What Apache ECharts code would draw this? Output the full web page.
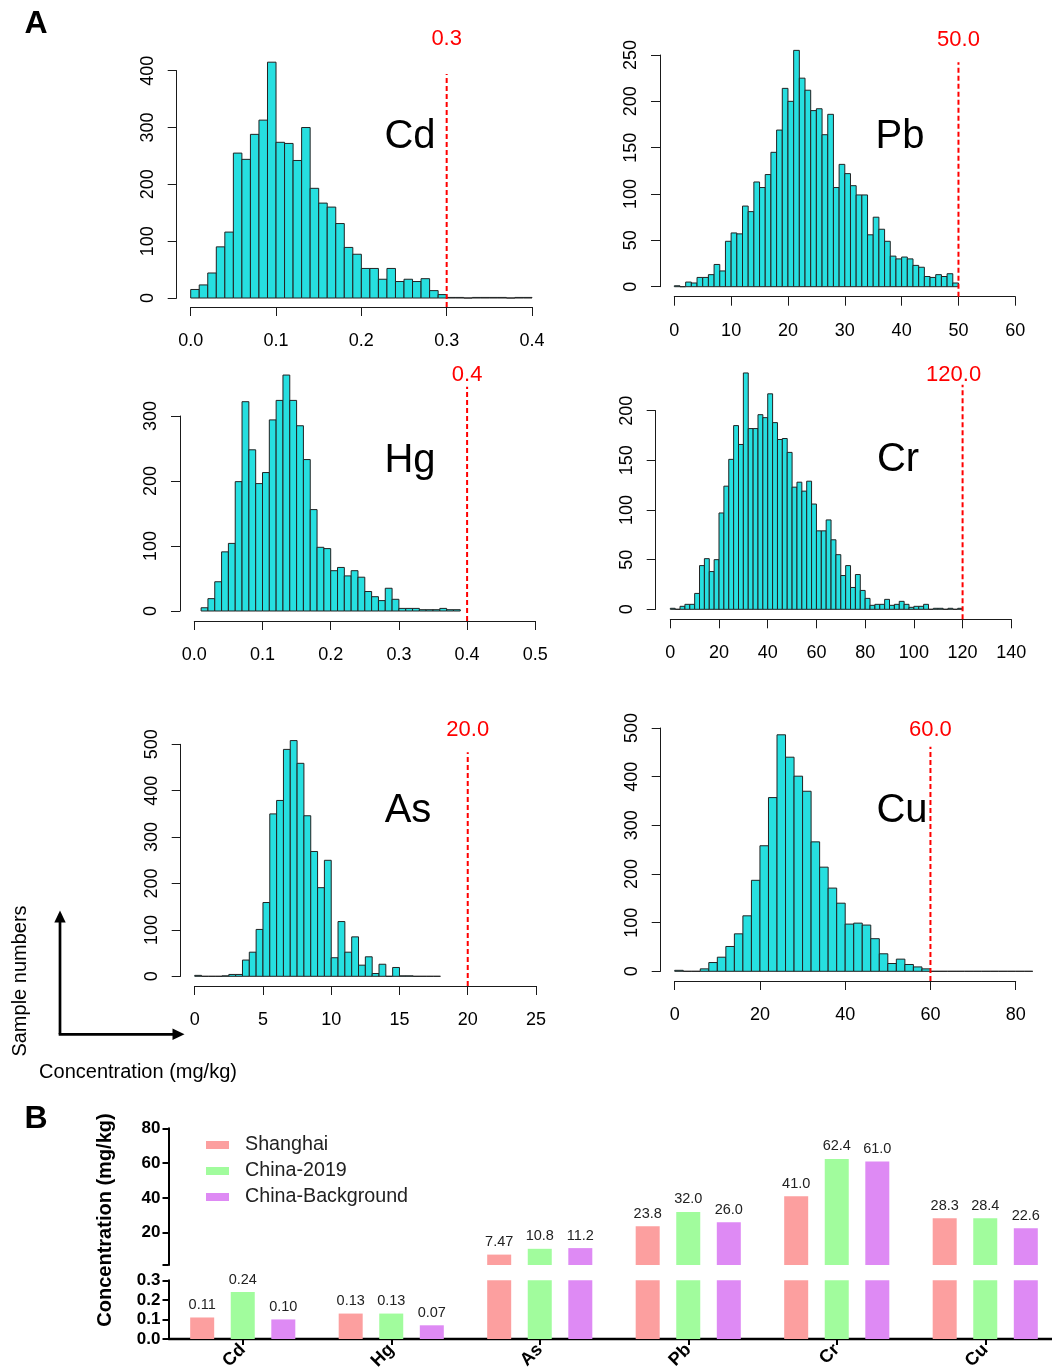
<!DOCTYPE html>
<html><head><meta charset="utf-8">
<script src="https://cdn.jsdelivr.net/npm/echarts@6/dist/echarts.min.js"></script>
<style>html,body{margin:0;padding:0;background:#fff}#chart{width:1052px;height:1370px}</style>
</head><body><div id="chart"></div>
<script>
// ================= DATA =================
// Panel A histograms: counts per bin, first bin start, bin width, guideline value
const cdCounts = [15,23,44,90,116,255,244,288,313,415,274,272,242,300,193,167,160,131,89,77,52,52,33,52,29,33,29,34,13,6,1,1,0,1,1,1,1,0,1,1];
const cdBinStart = 0, cdBinWidth = 0.01, cdLimit = 0.3;

const pbCounts = [1,0,5,4,10,10,13,24,17,49,58,57,87,81,113,107,121,145,169,214,200,255,225,212,190,192,164,186,107,132,122,109,99,99,56,75,62,49,33,30,32,30,23,21,11,10,13,11,14,4];
const pbBinStart = 0, pbBinWidth = 1, pbLimit = 50;

const hgCounts = [5,19,45,91,104,199,322,248,196,213,294,324,363,324,285,233,156,98,96,62,67,54,62,52,30,22,16,35,18,4,4,4,2,2,2,4,2,2];
const hgBinStart = 0.01, hgBinWidth = 0.01, hgLimit = 0.4;

const crCounts = [1,0,3,5,5,16,44,51,38,50,97,124,151,185,166,238,182,182,196,193,217,188,171,172,158,123,128,119,129,106,79,79,90,70,55,34,44,22,35,19,11,4,5,5,10,4,5,8,5,2,3,3,5,0,1,1,0,1,0,1];
const crBinStart = 0, crBinWidth = 2, crLimit = 120;

const asCounts = [2,0,0,0,1,4,4,35,52,101,159,350,379,489,508,459,346,269,191,250,40,118,52,85,24,42,6,26,0,19,1,1,0,0,0,0];
const asBinStart = 0, asBinWidth = 0.5, asLimit = 20;

const cuCounts = [2,0,0,5,18,29,51,77,114,187,258,357,486,440,401,370,266,214,171,140,97,99,95,67,36,16,25,14,9,5,0,0,0,0,0,0,0,0,0,0,0,0];
const cuBinStart = 0, cuBinWidth = 2, cuLimit = 60;

// Panel B
const elements = ['Cd','Hg','As','Pb','Cr','Cu'];
const seriesNames = ['Shanghai','China-2019','China-Background'];
const shanghai = [0.11,0.13,7.47,23.8,41.0,28.3];
const china2019 = [0.24,0.13,10.8,32.0,62.4,28.4];
const chinaBackground = [0.10,0.07,11.2,26.0,61.0,22.6];

// ================= LAYOUT / STYLE =================
const FONT = 'Liberation Sans, Arial, Helvetica, sans-serif';
const HIST_FILL = '#26DFE0';
const panels = [
  {name:'Cd', counts:cdCounts, start:cdBinStart, bw:cdBinWidth, limit:cdLimit, xMax:0.4, xInt:0.1, xDec:1, yMax:400, yInt:100,
   grid:{left:190.7, top:70.7, width:341.3, height:227.3}, yOff:14, xOff:9, labelY:39, labelDx:0, nx:410, ny:137},
  {name:'Pb', counts:pbCounts, start:pbBinStart, bw:pbBinWidth, limit:pbLimit, xMax:60, xInt:10, xDec:0, yMax:250, yInt:50,
   grid:{left:674.3, top:55, width:341, height:231.7}, yOff:14.3, xOff:10, labelY:40, labelDx:0, nx:900, ny:137},
  {name:'Hg', counts:hgCounts, start:hgBinStart, bw:hgBinWidth, limit:hgLimit, xMax:0.5, xInt:0.1, xDec:1, yMax:300, yInt:100,
   grid:{left:194.3, top:416, width:341, height:195}, yOff:14.3, xOff:10, labelY:375, labelDx:0, nx:410, ny:461},
  {name:'Cr', counts:crCounts, start:crBinStart, bw:crBinWidth, limit:crLimit, xMax:140, xInt:20, xDec:0, yMax:200, yInt:50,
   grid:{left:670.3, top:410.7, width:341, height:198.6}, yOff:14.6, xOff:10, labelY:375, labelDx:-9, nx:898, ny:460},
  {name:'As', counts:asCounts, start:asBinStart, bw:asBinWidth, limit:asLimit, xMax:25, xInt:5, xDec:0, yMax:500, yInt:100,
   grid:{left:194.7, top:744.3, width:341.3, height:232}, yOff:14, xOff:9.7, labelY:730, labelDx:0, nx:408, ny:811},
  {name:'Cu', counts:cuCounts, start:cuBinStart, bw:cuBinWidth, limit:cuLimit, xMax:80, xInt:20, xDec:0, yMax:500, yInt:100,
   grid:{left:674.7, top:728, width:341, height:243.3}, yOff:14, xOff:9.7, labelY:730, labelDx:0, nx:902, ny:811}
];
const barColors = ['#FC9F9F','#A1FC9D','#DE8AF4'];
const lowerMax = 0.3;

// ================= BUILD =================
const grids = [], xAxes = [], yAxes = [], series = [], graphics = [];
const axisCol = '#1a1a1a';

function histRender(params, api) {
  const x0 = api.value(0), x1 = api.value(1), c = api.value(2);
  const p0 = api.coord([x0, c]);
  const p1 = api.coord([x1, 0]);
  return {type:'rect', shape:{x:p0[0], y:p0[1], width:p1[0]-p0[0], height:p1[1]-p0[1]},
          style:{fill: c > 0 ? HIST_FILL : 'none', stroke:'#222', lineWidth:1}};
}
function makeLimitRender(p) {
  return function(params, api) {
    const lim = api.value(0), topVal = api.value(1);
    const base = api.coord([lim, 0]);
    const top = api.coord([lim, topVal]);
    return {type:'group', children:[
      {type:'line', shape:{x1:base[0], y1:base[1] + p.xOff, x2:top[0], y2:top[1]},
       style:{stroke:'#FF0000', lineWidth:2, lineDash:[5,3]}},
      {type:'text', x:base[0] + p.labelDx, y:p.labelY,
       style:{text: lim.toFixed(1), align:'center', verticalAlign:'middle', fill:'#FF0000', fontSize:22, fontFamily:FONT}}
    ]};
  };
}

panels.forEach((p, i) => {
  grids.push(Object.assign({containLabel:false, outerBoundsMode:'none'}, p.grid));
  xAxes.push({type:'value', gridIndex:i, min:0, max:p.xMax, interval:p.xInt, offset:p.xOff,
    axisLine:{show:true, onZero:false, lineStyle:{color:axisCol, width:1}},
    axisTick:{show:true, length:9, lineStyle:{color:axisCol, width:1}},
    axisLabel:{margin:25, fontSize:18, color:'#000', fontFamily:FONT, formatter:v => v.toFixed(p.xDec)},
    splitLine:{show:false}});
  yAxes.push({type:'value', gridIndex:i, min:0, max:p.yMax, interval:p.yInt, offset:p.yOff,
    axisLine:{show:true, onZero:false, lineStyle:{color:axisCol, width:1}},
    axisTick:{show:true, length:9, lineStyle:{color:axisCol, width:1}},
    axisLabel:{rotate:90, margin:20, fontSize:18, color:'#000', fontFamily:FONT},
    splitLine:{show:false}});
  const bins = p.counts.map((c, k) => [p.start + k*p.bw, p.start + (k+1)*p.bw, c]);
  series.push({type:'custom', xAxisIndex:i, yAxisIndex:i, clip:false, silent:true,
    renderItem:histRender, encode:{x:[0,1], y:2}, data:bins, z:2});
  const maxC = Math.max.apply(null, p.counts);
  series.push({type:'custom', xAxisIndex:i, yAxisIndex:i, clip:false, silent:true,
    renderItem:makeLimitRender(p), encode:{x:0, y:1}, data:[[p.limit, 0.95*maxC]], z:3});
  graphics.push({type:'text', x:p.nx, y:p.ny, style:{text:p.name, align:'center', verticalAlign:'middle',
    fontSize:40, fontFamily:FONT, fill:'#000'}});
});

// Panel B grids
const gU = grids.length;
grids.push({left:168.5, top:1128.3, width:891, height:136.7, containLabel:false, outerBoundsMode:'none'});
grids.push({left:168.5, top:1280.3, width:891, height:58.7, containLabel:false, outerBoundsMode:'none'});
const bAxisLine = {show:true, onZero:false, lineStyle:{color:'#000', width:2}};
xAxes.push({type:'category', gridIndex:gU, data:elements, show:false});
xAxes.push({type:'category', gridIndex:gU+1, data:elements,
  axisLine:{show:true, onZero:false, lineStyle:{color:'#000', width:2.3}},
  axisTick:{show:true, alignWithLabel:true, length:6, lineStyle:{color:'#000', width:2}},
  axisLabel:{rotate:45, margin:8, fontSize:18, fontWeight:'bold', color:'#000', fontFamily:FONT}});
yAxes.push({type:'value', gridIndex:gU, min:1.5, max:80,
  axisLine:bAxisLine,
  axisTick:{show:true, length:6, customValues:[1.5,20,40,60,80], lineStyle:{color:'#000', width:2}},
  axisLabel:{customValues:[20,40,60,80], margin:8, fontSize:17, fontWeight:'bold', color:'#000', fontFamily:FONT},
  splitLine:{show:false}});
yAxes.push({type:'value', gridIndex:gU+1, min:0, max:0.3, interval:0.1,
  axisLine:bAxisLine,
  axisTick:{show:true, length:6, lineStyle:{color:'#000', width:2}},
  axisLabel:{margin:8, fontSize:17, fontWeight:'bold', color:'#000', fontFamily:FONT, formatter:v => v.toFixed(1)},
  splitLine:{show:false}});

function fmtVal(v) { return v < 1 ? v.toFixed(2) : v.toPrecision(3); }
[shanghai, china2019, chinaBackground].forEach((vals, s) => {
  [0, 1].forEach(seg => {
    const upper = seg === 0;
    series.push({type:'bar', name:seriesNames[s], xAxisIndex:gU+seg, yAxisIndex:gU+seg,
      barWidth:24, barGap:'69%', clip:true, silent:true,
      itemStyle:{color:barColors[s]},
      label:{show:true, position:'top', distance:5, fontSize:14.5, color:'#222', fontFamily:FONT,
             formatter:pp => fmtVal(pp.value)},
      data: vals.map(v => ({value:v, label:{show: upper ? v > lowerMax : v <= lowerMax}}))});
  });
});

// Annotations
graphics.push({type:'text', x:36, y:24, style:{text:'A', align:'center', verticalAlign:'middle', fontSize:32, fontWeight:'bold', fontFamily:FONT, fill:'#000'}});
graphics.push({type:'text', x:36, y:1119, style:{text:'B', align:'center', verticalAlign:'middle', fontSize:32, fontWeight:'bold', fontFamily:FONT, fill:'#000'}});
graphics.push({type:'text', x:20, y:981, rotation:Math.PI/2, style:{text:'Sample numbers', align:'center', verticalAlign:'middle', fontSize:20, fontFamily:FONT, fill:'#000'}});
graphics.push({type:'text', x:138, y:1072, style:{text:'Concentration (mg/kg)', align:'center', verticalAlign:'middle', fontSize:20, fontFamily:FONT, fill:'#000'}});
graphics.push({type:'text', x:105, y:1220, rotation:Math.PI/2, style:{text:'Concentration (mg/kg)', align:'center', verticalAlign:'middle', fontSize:20, fontWeight:'bold', fontFamily:FONT, fill:'#000'}});
graphics.push({type:'line', shape:{x1:60, y1:1034.3, x2:60, y2:920}, style:{stroke:'#000', lineWidth:2.7}});
graphics.push({type:'polygon', shape:{points:[[60,910.5],[54.3,922.5],[65.7,922.5]]}, style:{fill:'#000'}});
graphics.push({type:'line', shape:{x1:58.7, y1:1034.3, x2:176, y2:1034.3}, style:{stroke:'#000', lineWidth:2.7}});
graphics.push({type:'polygon', shape:{points:[[184.5,1034.3],[172.5,1028.5],[172.5,1040.1]]}, style:{fill:'#000'}});

const chart = echarts.init(document.getElementById('chart'), null, {renderer:'canvas'});
chart.setOption({
  animation:false,
  backgroundColor:'#fff',
  textStyle:{fontFamily:FONT},
  grid:grids, xAxis:xAxes, yAxis:yAxes, series:series,
  legend:{data:seriesNames, orient:'vertical', left:206, top:1135, padding:0, icon:'rect', itemWidth:23, itemHeight:8, itemGap:6,
    selectedMode:false, textStyle:{fontSize:19.7, lineHeight:19, color:'#222', fontFamily:FONT, padding:[0,0,0,11]}},
  graphic:graphics
});
</script></body></html>
